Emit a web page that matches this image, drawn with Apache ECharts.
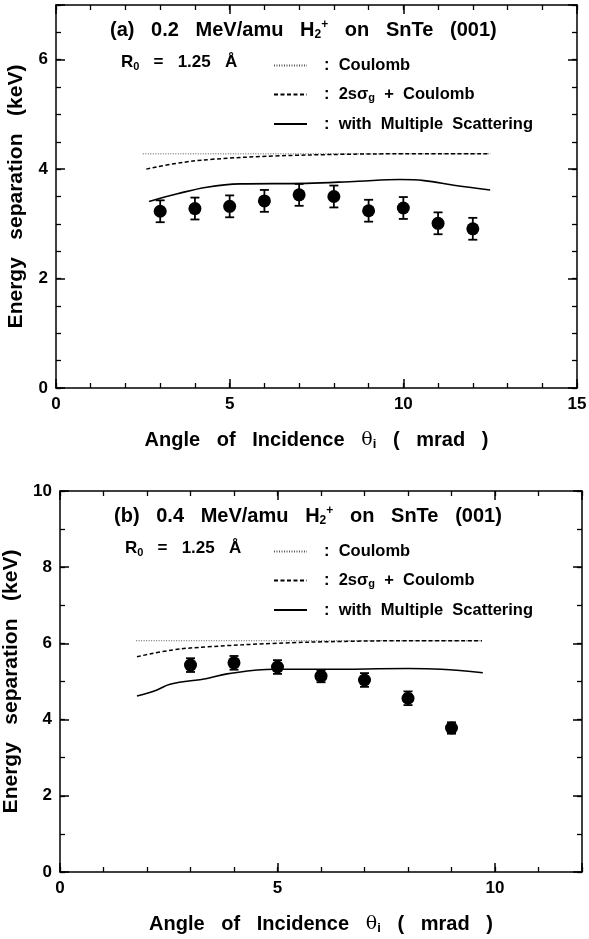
<!DOCTYPE html>
<html><head><meta charset="utf-8">
<script src="https://cdn.jsdelivr.net/npm/echarts@6/dist/echarts.min.js"></script>
<style>html,body{margin:0;padding:0;background:#fff}#c{width:589px;height:939px}</style>
</head><body><div id="c"></div>
<script>
// ---- Panel (a): 0.2 MeV/amu ----
const aAngles = [3, 4, 5, 6, 7, 8, 9, 10, 11, 12];
const aExp = [3.23, 3.28, 3.32, 3.42, 3.53, 3.50, 3.24, 3.29, 3.01, 2.91];
const aErr = [0.2, 0.2, 0.2, 0.2, 0.2, 0.2, 0.2, 0.2, 0.2, 0.2];
const aCoulomb = [[2.5, 4.28], [12.5, 4.28]];
const aWake = [[2.6, 4.0], [3.4, 4.1], [4.5, 4.18], [6.3, 4.24], [8.2, 4.27], [10, 4.28], [12.5, 4.28]];
const aMS = [[2.68, 3.41], [3.5, 3.55], [4.34, 3.67], [5.3, 3.73], [7.2, 3.74], [8.7, 3.78], [9.9, 3.81], [10.6, 3.79], [11.5, 3.70], [12.5, 3.62]];
// ---- Panel (b): 0.4 MeV/amu ----
const bAngles = [3, 4, 5, 6, 7, 8, 9];
const bExp = [5.43, 5.49, 5.38, 5.14, 5.04, 4.56, 3.78];
const bErr = [0.18, 0.18, 0.18, 0.16, 0.18, 0.18, 0.15];
const bCoulomb = [[1.75, 6.07], [9.7, 6.07]];
const bWake = [[1.77, 5.65], [2.6, 5.83], [3.4, 5.91], [4.9, 6.0], [6.45, 6.05], [8, 6.07], [9.7, 6.07]];
const bMS = [[1.77, 4.62], [2.23, 4.78], [2.53, 4.93], [3.38, 5.08], [3.84, 5.2], [4.92, 5.32], [6.07, 5.32], [8.0, 5.34], [8.76, 5.32], [9.72, 5.23]];
// axis settings
const aXMax = 15, aYMax = 7, bXMax = 12, bYMax = 10;
const xLabelStep = 5, aYLabelStep = 2, bYLabelStep = 2;
const aYMinorStep = 0.5, bYMinorStep = 1, xMinorStep = 1;
const seriesNames = ['Coulomb', '2sσg + Coulomb', 'with Multiple Scattering'];

const FONT = '"Liberation Sans", Arial, Helvetica, sans-serif';
const chart = echarts.init(document.getElementById('c'), null, {renderer: 'canvas'});

function axisSet(dim, gridIndex, max, major, minor, name, nameGap, nameSize) {
  const base = {
    type: 'value', gridIndex: gridIndex, min: 0, max: max,
    axisLine: {show: true, onZero: false, lineStyle: {color: '#000', width: 1.5}},
    splitLine: {show: false}
  };
  const hidden = {show: false, onZero: false};
  const pos = dim === 'x' ? ['bottom', 'top'] : ['left', 'right'];
  const fmt = function (v) { return (Math.abs(v / major - Math.round(v / major)) < 1e-6) ? String(v) : ''; };
  const arr = [];
  arr.push(Object.assign({}, base, {
    position: pos[0], interval: major,
    axisTick: {inside: true, length: 9, lineStyle: {color: '#000', width: 1.5}},
    axisLabel: {show: true, formatter: fmt, color: '#000', fontFamily: FONT, fontWeight: 'bold', fontSize: 17, margin: 8},
    name: name, nameLocation: 'middle', nameGap: nameGap,
    nameTextStyle: {color: '#000', fontFamily: FONT, fontWeight: 'bold', fontSize: nameSize,
      rich: {s: {fontFamily: FONT, fontWeight: 'bold', fontSize: 13, verticalAlign: 'bottom', padding: [9, 0, 0, 0]},
             th: {fontFamily: '"DejaVu Serif", serif', fontSize: 19, fontWeight: 'normal'}}}
  }));
  arr.push(Object.assign({}, base, {
    position: pos[0], interval: minor, axisLine: hidden,
    axisTick: {inside: true, length: 5, lineStyle: {color: '#000', width: 1.3}},
    axisLabel: {show: false}
  }));
  arr.push(Object.assign({}, base, {
    position: pos[1], interval: major,
    axisTick: {inside: true, length: 9, lineStyle: {color: '#000', width: 1.5}},
    axisLabel: {show: false}
  }));
  arr.push(Object.assign({}, base, {
    position: pos[1], interval: minor, axisLine: hidden,
    axisTick: {inside: true, length: 5, lineStyle: {color: '#000', width: 1.3}},
    axisLabel: {show: false}
  }));
  return arr;
}

const xName = 'Angle   of   Incidence   {th|θ}{s|i}   (   mrad   )';
const yName = 'Energy   separation   (keV)';

const xAxes = axisSet('x', 0, aXMax, xLabelStep, xMinorStep, xName, 41, 20)
  .concat(axisSet('x', 1, bXMax, xLabelStep, xMinorStep, xName, 41, 20));
const yAxes = axisSet('y', 0, aYMax, aYLabelStep, aYMinorStep, yName, 29, 21)
  .concat(axisSet('y', 1, bYMax, bYLabelStep, bYMinorStep, yName, 33, 21));

function errRender(params, api) {
  const x = api.value(0), lo = api.value(1), hi = api.value(2);
  const p1 = api.coord([x, hi]);
  const p2 = api.coord([x, lo]);
  const w = 4.5;
  const st = {stroke: '#000', lineWidth: 1.8};
  return {type: 'group', children: [
    {type: 'line', shape: {x1: p1[0], y1: p1[1], x2: p2[0], y2: p2[1]}, style: st},
    {type: 'line', shape: {x1: p1[0] - w, y1: p1[1], x2: p1[0] + w, y2: p1[1]}, style: st},
    {type: 'line', shape: {x1: p2[0] - w, y1: p2[1], x2: p2[0] + w, y2: p2[1]}, style: st}
  ]};
}

function panelSeries(xi, yi, angles, exp, err, coul, wake, ms) {
  return [
    {name: seriesNames[0], type: 'line', xAxisIndex: xi, yAxisIndex: yi, data: coul, symbol: 'none',
      lineStyle: {color: '#555', width: 1, type: [1, 1.5]}, itemStyle: {color: '#555'}},
    {name: seriesNames[1], type: 'line', xAxisIndex: xi, yAxisIndex: yi, data: wake, symbol: 'none', smooth: 0.4,
      lineStyle: {color: '#000', width: 1.5, type: [4, 2.5]}, itemStyle: {color: '#000'}},
    {name: seriesNames[2], type: 'line', xAxisIndex: xi, yAxisIndex: yi, data: ms, symbol: 'none', smooth: 0.4,
      lineStyle: {color: '#000', width: 1.6}, itemStyle: {color: '#000'}},
    {type: 'custom', xAxisIndex: xi, yAxisIndex: yi, renderItem: errRender,
      data: angles.map(function (a, i) { return [a, exp[i] - err[i], exp[i] + err[i]]; }), z: 3},
    {type: 'scatter', xAxisIndex: xi, yAxisIndex: yi, symbol: 'circle', symbolSize: 13,
      itemStyle: {color: '#000', opacity: 1}, data: angles.map(function (a, i) { return [a, exp[i]]; }), z: 4}
  ];
}

const richTitle = {
  sub: {fontFamily: FONT, fontWeight: 'bold', fontSize: 12, verticalAlign: 'bottom', padding: [10, 0, 0, 0]},
  sup: {fontFamily: FONT, fontWeight: 'bold', fontSize: 12, verticalAlign: 'top', padding: [0, 0, 10, 0]}
};
const titleStyle = {color: '#000', fontFamily: FONT, fontWeight: 'bold', fontSize: 20, rich: richTitle};
const rStyle = {color: '#000', fontFamily: FONT, fontWeight: 'bold', fontSize: 17,
  rich: {sub: {fontFamily: FONT, fontWeight: 'bold', fontSize: 11, verticalAlign: 'bottom', padding: [8, 0, 0, 0]}}};

function legendFor(top) {
  return {
    orient: 'vertical', left: 273, top: top, padding: 0, itemWidth: 33, itemHeight: 12, itemGap: 12,
    data: seriesNames, selectedMode: false,
    itemStyle: {opacity: 0},
    formatter: function (n) {
      if (n === seriesNames[1]) return ':  2sσ{g|g}  +  Coulomb';
      return ':  ' + n.replace(/ /g, '  ');
    },
    textStyle: {color: '#000', fontFamily: FONT, fontWeight: 'bold', fontSize: 16.5, padding: [0, 0, 0, 12],
      rich: {g: {fontFamily: FONT, fontWeight: 'bold', fontSize: 11, verticalAlign: 'bottom', padding: [7, 0, 0, 0]}}}
  };
}

chart.setOption({
  animation: false,
  backgroundColor: '#fff',
  grid: [
    {left: 56, right: 12, top: 5, height: 383, containLabel: false, outerBoundsMode: 'none'},
    {left: 60, right: 7, top: 491, height: 381, containLabel: false, outerBoundsMode: 'none'}
  ],
  title: [
    {text: '(a)   0.2   MeV/amu   H{sub|2}{sup|+}   on   SnTe   (001)', left: 110, top: 19, textStyle: titleStyle, padding: 0},
    {text: '(b)   0.4   MeV/amu   H{sub|2}{sup|+}   on   SnTe   (001)', left: 114, top: 505, textStyle: titleStyle, padding: 0},
    {text: 'R{sub|0}   =   1.25   Å', left: 121, top: 53, textStyle: rStyle, padding: 0},
    {text: 'R{sub|0}   =   1.25   Å', left: 125, top: 539, textStyle: rStyle, padding: 0}
  ],
  legend: [legendFor(57), legendFor(543)],
  xAxis: xAxes,
  yAxis: yAxes,
  series: panelSeries(0, 0, aAngles, aExp, aErr, aCoulomb, aWake, aMS)
    .concat(panelSeries(4, 4, bAngles, bExp, bErr, bCoulomb, bWake, bMS))
});
</script></body></html>
